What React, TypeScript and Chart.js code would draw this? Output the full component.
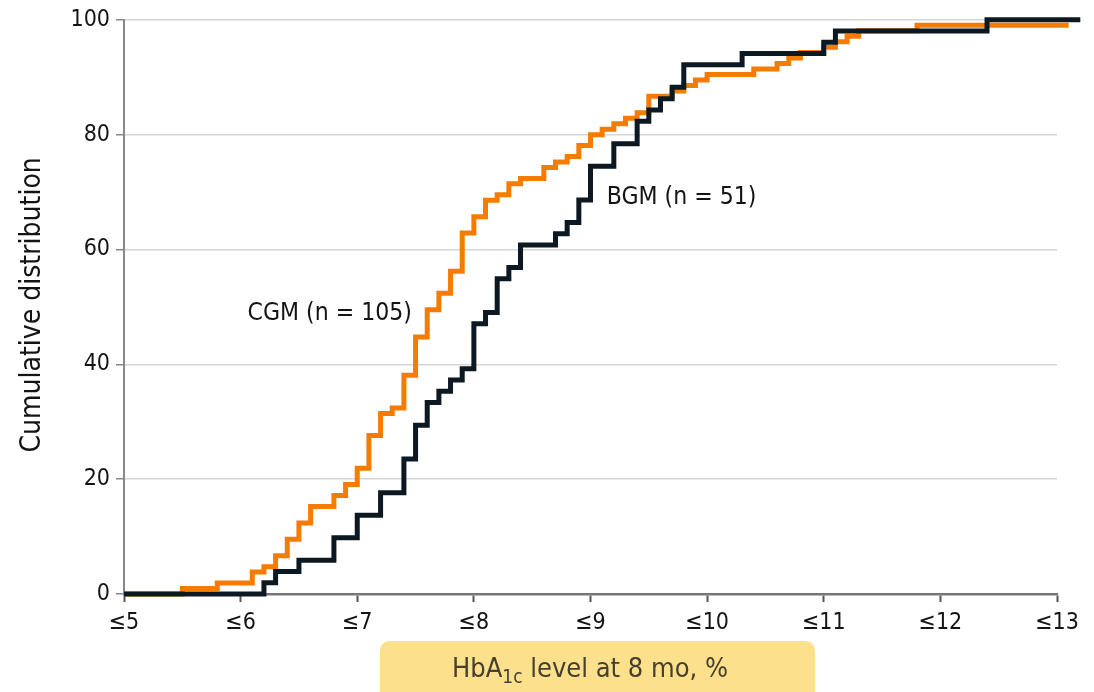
import React, { useEffect, useRef } from 'react';
import { Chart, registerables } from 'chart.js';

Chart.register(...registerables);

// ---- data ----
const xTickValues = [5, 6, 7, 8, 9, 10, 11, 12, 13];
const xTickLabels = ['≤5', '≤6', '≤7', '≤8', '≤9', '≤10', '≤11', '≤12', '≤13'];
const yTickValues = [0, 20, 40, 60, 80, 100];
const yTickLabels = ['0', '20', '40', '60', '80', '100'];

const cgmLabel = 'CGM (n = 105)';
const bgmLabel = 'BGM (n = 51)';
const yAxisTitle = 'Cumulative distribution';
const xAxisTitleParts = ['HbA', '1c', ' level at 8 mo, %'];

const cgmHbA1c = [
  5.0, 5.5, 5.8, 6.1, 6.2, 6.3, 6.4, 6.5, 6.6, 6.8, 6.9,
  7.0, 7.1, 7.2, 7.3, 7.4, 7.5, 7.6, 7.7, 7.8, 7.9,
  8.0, 8.1, 8.2, 8.3, 8.4, 8.6, 8.7, 8.8, 8.9,
  9.0, 9.1, 9.2, 9.3, 9.4, 9.5, 9.7, 9.8, 9.9,
  10.0, 10.4, 10.6, 10.7, 10.8,
  11.0, 11.1, 11.2, 11.3, 11.8, 13.1,
];
const cgmCumulative = [
  0, 0.95, 1.9, 3.81, 4.76, 6.67, 9.52, 12.38, 15.24, 17.14, 19.05,
  21.9, 27.62, 31.43, 32.38, 38.1, 44.76, 49.52, 52.38, 56.19, 62.86,
  65.71, 68.57, 69.52, 71.43, 72.38, 74.29, 75.24, 76.19, 78.1,
  80.0, 80.95, 81.9, 82.86, 83.81, 86.67, 87.62, 88.57, 89.52,
  90.48, 91.43, 92.38, 93.33, 94.29,
  95.24, 96.19, 97.14, 98.1, 99.05, 99.05,
];

const bgmHbA1c = [
  5.0, 6.2, 6.3, 6.5, 6.8, 7.0, 7.2, 7.4, 7.5, 7.6, 7.7, 7.8, 7.9,
  8.0, 8.1, 8.2, 8.3, 8.4, 8.7, 8.8, 8.9,
  9.0, 9.2, 9.4, 9.5, 9.6, 9.7, 9.8,
  10.3, 11.0, 11.1, 12.4, 13.2,
];
const bgmCumulative = [
  0, 1.96, 3.92, 5.88, 9.8, 13.73, 17.65, 23.53, 29.41, 33.33, 35.29, 37.25, 39.22,
  47.06, 49.02, 54.9, 56.86, 60.78, 62.75, 64.71, 68.63,
  74.51, 78.43, 82.35, 84.31, 86.27, 88.24, 92.16,
  94.12, 96.08, 98.04, 100, 100,
];

// ---- styling ----
const FONT = "'Liberation Sans Narrow', 'DejaVu Sans Condensed', 'Open Sans', sans-serif";
const ORANGE = '#F57C00';
const DARK = '#0c1822';
const TEXT = '#141414';

const W = 1094;
const H = 692;

const overlayPlugin = {
  id: 'overlay',
  afterDraw(chart: any) {
    const { ctx, chartArea, scales } = chart;
    const xs = scales.x;
    const ys = scales.y;

    // y axis title
    ctx.save();
    ctx.fillStyle = TEXT;
    ctx.font = `28px ${FONT}`;
    ctx.textAlign = 'center';
    ctx.textBaseline = 'middle';
    ctx.translate(33, (chartArea.top + chartArea.bottom) / 2 - 2);
    ctx.rotate(-Math.PI / 2);
    ctx.fillText(yAxisTitle, 0, 0);
    ctx.restore();

    // series labels
    ctx.save();
    ctx.fillStyle = TEXT;
    ctx.font = `24.5px ${FONT}`;
    ctx.textAlign = 'left';
    ctx.textBaseline = 'middle';
    ctx.fillText(cgmLabel, xs.getPixelForValue(6.06), ys.getPixelForValue(48.8));
    ctx.fillText(bgmLabel, xs.getPixelForValue(9.14), ys.getPixelForValue(69.1));
    ctx.restore();

    // x axis title in yellow box
    ctx.save();
    const bx = 380, by = 641, bw = 435, bh = 70, r = 11;
    ctx.fillStyle = '#FCE08C';
    ctx.beginPath();
    ctx.moveTo(bx + r, by);
    ctx.lineTo(bx + bw - r, by);
    ctx.quadraticCurveTo(bx + bw, by, bx + bw, by + r);
    ctx.lineTo(bx + bw, by + bh);
    ctx.lineTo(bx, by + bh);
    ctx.lineTo(bx, by + r);
    ctx.quadraticCurveTo(bx, by, bx + r, by);
    ctx.closePath();
    ctx.fill();

    const mainFont = `27px ${FONT}`;
    const subFont = `19px ${FONT}`;
    ctx.font = mainFont;
    const w1 = ctx.measureText(xAxisTitleParts[0]).width;
    const w3 = ctx.measureText(xAxisTitleParts[2]).width;
    ctx.font = subFont;
    const w2 = ctx.measureText(xAxisTitleParts[1]).width;
    const total = w1 + w2 + w3;
    let cx = 590 - total / 2;
    const base = 677;
    ctx.fillStyle = '#45402f';
    ctx.textAlign = 'left';
    ctx.textBaseline = 'alphabetic';
    ctx.font = mainFont;
    ctx.fillText(xAxisTitleParts[0], cx, base);
    cx += w1;
    ctx.font = subFont;
    ctx.fillText(xAxisTitleParts[1], cx, base + 6);
    cx += w2;
    ctx.font = mainFont;
    ctx.fillText(xAxisTitleParts[2], cx, base);
    ctx.restore();
  },
};

export default function App() {
  const canvasRef = useRef<HTMLCanvasElement | null>(null);

  useEffect(() => {
    const canvas = canvasRef.current;
    if (!canvas) return;
    const chart = new Chart(canvas, {
      type: 'line',
      data: {
        datasets: [
          {
            label: bgmLabel,
            data: bgmHbA1c.map((x, i) => ({ x, y: bgmCumulative[i] })),
            borderColor: DARK,
            borderWidth: 5,
            stepped: 'before',
            pointRadius: 0,
            fill: false,
            clip: false as any,
            borderJoinStyle: 'miter',
            borderCapStyle: 'butt',
          },
          {
            label: cgmLabel,
            data: cgmHbA1c.map((x, i) => ({ x, y: cgmCumulative[i] })),
            borderColor: ORANGE,
            borderWidth: 5,
            stepped: 'before',
            pointRadius: 0,
            fill: false,
            clip: false as any,
            borderJoinStyle: 'miter',
            borderCapStyle: 'butt',
          },
        ],
      },
      options: {
        responsive: false,
        animation: false,
        devicePixelRatio: 1,
        layout: { padding: { left: 0, right: 37, top: 18, bottom: 0 } },
        plugins: {
          legend: { display: false },
          tooltip: { enabled: false },
        },
        scales: {
          x: {
            type: 'linear',
            min: 5,
            max: 13,
            afterFit: (scale: any) => { scale.height = 98; },
            afterBuildTicks: (scale: any) => {
              scale.ticks = xTickValues.map((v) => ({ value: v }));
            },
            ticks: {
              callback: (v: any) => {
                const i = xTickValues.indexOf(Number(v));
                return i >= 0 ? xTickLabels[i] : '';
              },
              color: TEXT,
              font: { family: FONT, size: 23 },
              padding: 7,
              maxRotation: 0,
              autoSkip: false,
            },
            grid: {
              display: true,
              drawOnChartArea: false,
              drawTicks: true,
              tickLength: 8,
              tickColor: '#555',
              tickWidth: 2,
            },
            border: { display: true, color: '#777', width: 2.5 },
          },
          y: {
            type: 'linear',
            min: 0,
            max: 100,
            afterFit: (scale: any) => { scale.width = 124; },
            afterBuildTicks: (scale: any) => {
              scale.ticks = yTickValues.map((v) => ({ value: v }));
            },
            ticks: {
              callback: (v: any) => {
                const i = yTickValues.indexOf(Number(v));
                return i >= 0 ? yTickLabels[i] : '';
              },
              color: TEXT,
              font: { family: FONT, size: 23 },
              padding: 6,
            },
            grid: {
              display: true,
              color: '#d6d6d6',
              lineWidth: 1.5,
              drawTicks: true,
              tickLength: 8,
              tickColor: '#888',
              tickWidth: 1.5,
            },
            border: { display: true, color: '#888', width: 2 },
          },
        },
      },
      plugins: [overlayPlugin],
    });
    return () => chart.destroy();
  }, []);

  return (
    <div style={{ position: 'absolute', left: 0, top: 0, width: W, height: H, background: '#fff' }}>
      <canvas ref={canvasRef} width={W} height={H} style={{ display: 'block', width: W, height: H }} />
    </div>
  );
}
